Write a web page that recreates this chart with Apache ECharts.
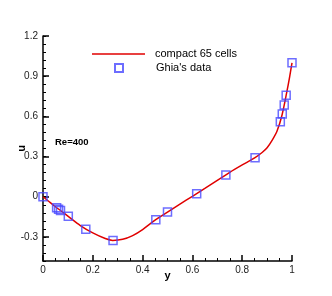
<!DOCTYPE html>
<html><head><meta charset="utf-8">
<script src="https://cdn.jsdelivr.net/npm/echarts@6/dist/echarts.min.js"></script>
<style>html,body{margin:0;padding:0;background:#fff}#c{width:332px;height:296px}</style>
</head><body><div id="c"></div>
<script>
// Ghia et al. data, Re=400 (y, u)
var ghiaY = [0.0000, 0.0547, 0.0625, 0.0703, 0.1016, 0.1719, 0.2813, 0.4531, 0.5000, 0.6172, 0.7344, 0.8516, 0.9531, 0.9609, 0.9688, 0.9766, 1.0000];
var ghiaU = [0.0000, -0.0819, -0.0927, -0.1034, -0.1461, -0.2430, -0.3273, -0.1712, -0.1148, 0.0214, 0.1626, 0.2909, 0.5589, 0.6176, 0.6844, 0.7584, 1.0000];
// compact 65 cells curve
var curveY = [0, 0.02, 0.05, 0.1, 0.15, 0.2, 0.25, 0.28, 0.32, 0.36, 0.4, 0.45, 0.5, 0.55, 0.6, 0.65, 0.7, 0.75, 0.8, 0.85, 0.88, 0.9, 0.92, 0.94, 0.96, 0.98, 0.99, 1.0];
var curveU = [0, -0.03, -0.075, -0.145, -0.215, -0.27, -0.312, -0.326, -0.318, -0.29, -0.245, -0.175, -0.115, -0.055, 0.003, 0.062, 0.122, 0.182, 0.237, 0.29, 0.33, 0.365, 0.42, 0.49, 0.61, 0.79, 0.89, 1.0];
var uTicks = [-0.3, 0, 0.3, 0.6, 0.9, 1.2];
var yTicks = [0, 0.2, 0.4, 0.6, 0.8, 1];
var seriesNames = ['compact 65 cells', "Ghia's data"];
var annotation = 'Re=400';

function pairs(a, b) { return a.map(function (v, i) { return [v, b[i]]; }); }
function fmt(v) { return String(Math.round(v * 10) / 10); }
var chart = echarts.init(document.getElementById('c'), null, {renderer: 'canvas'});
var font = 'Liberation Sans, Arial, sans-serif';
var legendText = {fontFamily: font, fontSize: 11, color: '#000', lineHeight: 14};
chart.setOption({
  animation: false,
  backgroundColor: '#fff',
  grid: {left: 43, right: 40, top: 36, bottom: 35, containLabel: false, outerBoundsMode: 'none'},
  xAxis: {
    type: 'value', min: 0, max: 1, interval: 0.2,
    name: 'y', nameLocation: 'middle', nameGap: 9, nameMoveOverlap: false,
    nameTextStyle: {fontFamily: font, fontSize: 11, fontWeight: 'bold', color: '#000'},
    axisLine: {onZero: false, lineStyle: {color: '#000', width: 1.5}},
    axisTick: {inside: true, length: 6, customValues: yTicks, lineStyle: {color: '#000', width: 1.5}},
    minorTick: {show: true, splitNumber: 4, length: 3, lineStyle: {color: '#000', width: 1}},
    axisLabel: {fontFamily: font, fontSize: 10, color: '#222', margin: 4, customValues: yTicks, formatter: fmt},
    splitLine: {show: false}
  },
  yAxis: [{
    type: 'value', min: -0.48, max: 1.2,
    name: 'u', nameLocation: 'middle', nameGap: 16, nameRotate: 90, nameMoveOverlap: false,
    nameTextStyle: {fontFamily: font, fontSize: 11, fontWeight: 'bold', color: '#000'},
    axisLine: {onZero: false, lineStyle: {color: '#000', width: 1.5}},
    axisTick: {inside: true, length: 6, customValues: uTicks, lineStyle: {color: '#000', width: 1.5}},
    axisLabel: {fontFamily: font, fontSize: 10, color: '#222', margin: 5, customValues: uTicks, formatter: fmt},
    splitLine: {show: false}
  }, {
    type: 'value', min: -0.48, max: 1.2, interval: 0.06, position: 'left', offset: 0,
    axisLine: {show: false, onZero: false},
    axisTick: {inside: true, length: 3, lineStyle: {color: '#000', width: 1}},
    axisLabel: {show: false},
    splitLine: {show: false}
  }],
  legend: [{
    orient: 'vertical', left: 92, top: 47, padding: 0,
    itemWidth: 53, itemHeight: 1.5, itemGap: 0,
    textStyle: Object.assign({padding: [0, 0, 0, 5]}, legendText),
    data: [{name: seriesNames[0], icon: 'rect'}]
  }, {
    orient: 'vertical', left: 114, top: 61, padding: 0,
    itemWidth: 8, itemHeight: 8, itemGap: 0,
    textStyle: Object.assign({padding: [0, 0, 0, 28]}, legendText),
    data: [{name: seriesNames[1], icon: 'rect'}]
  }],
  graphic: [{type: 'text', left: 55, top: 137, style: {text: annotation, font: 'bold 9.5px ' + font, fill: '#000'}}],
  series: [{
    name: seriesNames[0], type: 'line', data: pairs(curveY, curveU), smooth: 0.3,
    symbol: 'none', lineStyle: {color: '#e00000', width: 1.5}, itemStyle: {color: '#e00000'}, z: 2
  }, {
    name: seriesNames[1], type: 'scatter', data: pairs(ghiaY, ghiaU),
    symbol: 'rect', symbolSize: 8,
    itemStyle: {color: 'rgba(0,0,0,0)', borderColor: '#4848ff', borderWidth: 1.5}, z: 3
  }]
});
</script></body></html>
